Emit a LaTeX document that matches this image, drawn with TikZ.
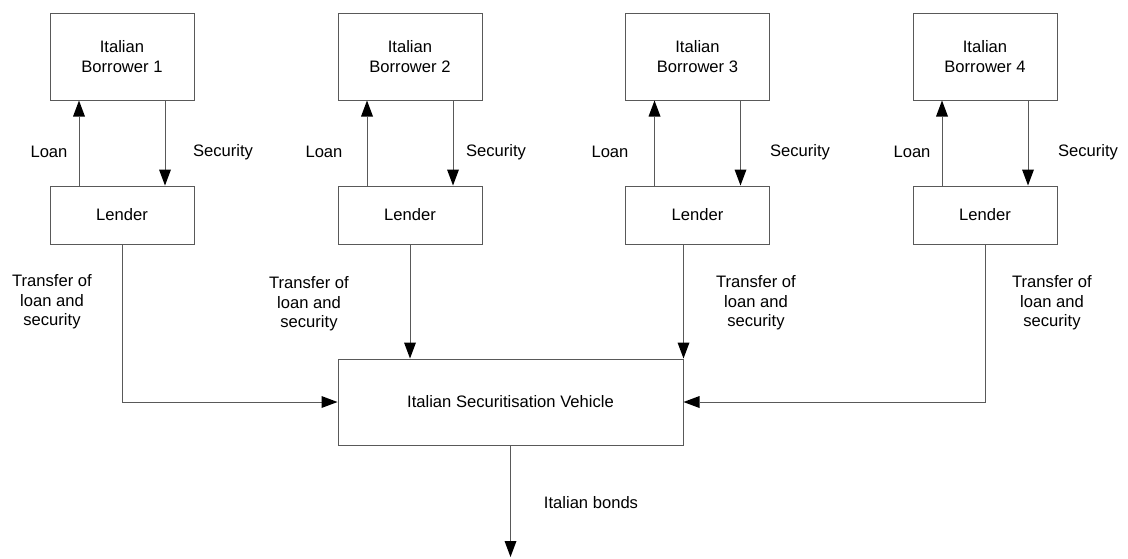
\documentclass[tikz,border=0pt]{standalone}
\usepackage{fontspec}
\setmainfont{Liberation Sans}
\usetikzlibrary{arrows.meta}
\begin{document}
\begin{tikzpicture}[x=1pt,y=-1pt,
 box/.style={draw=black!65, line width=1pt, inner sep=0pt, align=center, minimum width=144pt, font=\fontsize{16.6}{20}\selectfont},
 lbl/.style={inner sep=0pt, align=center, font=\fontsize{16.6}{19.5}\selectfont},
 conn/.style={draw=black!65, line width=1pt, -{Triangle[length=16pt,width=12pt,fill=black,line width=0pt]}},
]
\useasboundingbox (0,0) rectangle (1128,558);
% borrowers
\node[box, minimum height=87pt] (b1) at (122,56.5) {Italian\\Borrower 1};
\node[box, minimum height=87pt] (b2) at (410,56.5) {Italian\\Borrower 2};
\node[box, minimum height=87pt] (b3) at (697.5,56.5) {Italian\\Borrower 3};
\node[box, minimum height=87pt] (b4) at (985,56.5) {Italian\\Borrower 4};
% lenders
\node[box, minimum height=58pt] (l1) at (122,215) {Lender};
\node[box, minimum height=58pt] (l2) at (410,215) {Lender};
\node[box, minimum height=58pt] (l3) at (697.5,215) {Lender};
\node[box, minimum height=58pt] (l4) at (985,215) {Lender};
% vehicle
\node[box, minimum width=345pt, minimum height=86pt] (v) at (510.5,402) {Italian Securitisation Vehicle};
\coordinate (bend) at (510.5,557);
% loan / security arrows
\foreach \i in {1,2,3,4}{
  \draw[conn] ([xshift=-43pt]l\i.north) -- ([xshift=-43pt]b\i.south);
  \draw[conn] ([xshift=43pt]b\i.south) -- ([xshift=43pt]l\i.north);
}
% transfers
\draw[conn] (l1.south) |- (v.west);
\draw[conn] (l2.south) -- (l2.south |- v.north);
\draw[conn] (l3.south -| v.north east) -- (v.north east);
\draw[conn] (l4.south) |- (v.east);
\draw[conn] (v.south) -- (bend);
% labels
\node[lbl] (lo1) at (49,152) {Loan};
\node[lbl] (lo2) at (324,152) {Loan};
\node[lbl] (lo3) at (610,152) {Loan};
\node[lbl] (lo4) at (912,152) {Loan};
\node[lbl] (se1) at (223,152) {Security};
\node[lbl] (se2) at (496,152) {Security};
\node[lbl] (se3) at (800,152) {Security};
\node[lbl] (se4) at (1088,152) {Security};
\node[lbl] (t1) at (52,302) {Transfer of\\loan and\\security};
\node[lbl] (t2) at (309,304) {Transfer of\\loan and\\security};
\node[lbl] (t3) at (756,303) {Transfer of\\loan and\\security};
\node[lbl] (t4) at (1052,303) {Transfer of\\loan and\\security};
\node[lbl] (ib) at (591,503) {Italian bonds};
\end{tikzpicture}
\end{document}
